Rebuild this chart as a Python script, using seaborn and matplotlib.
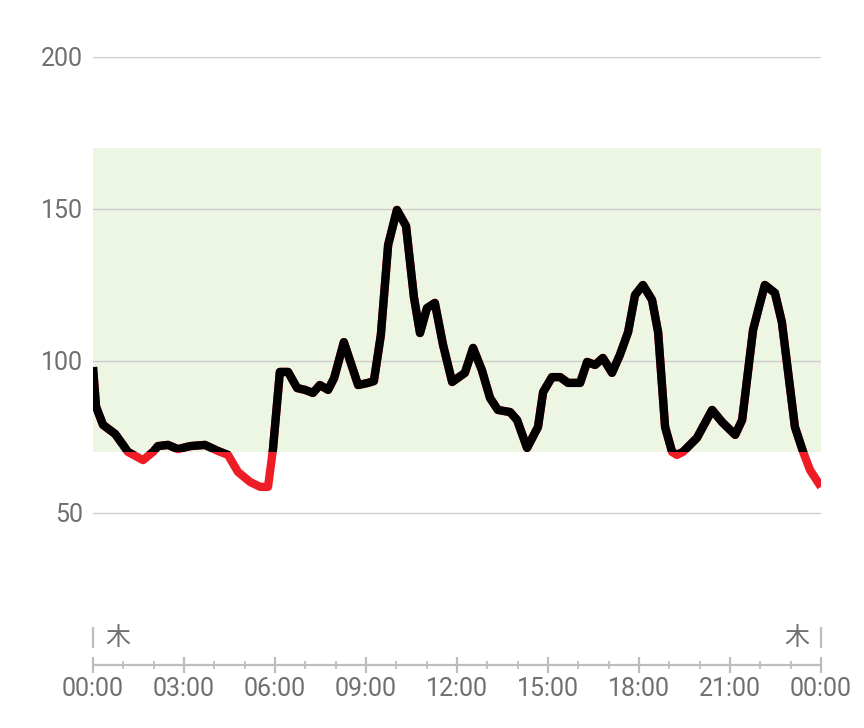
import matplotlib
matplotlib.use("Agg")
import matplotlib.pyplot as plt
import seaborn as sns
import pandas as pd
from matplotlib.patches import Rectangle

# ---- data ----
hours = [0.00, 0.10, 0.33, 0.73, 0.99, 1.15, 1.65, 1.98, 2.14, 2.47, 2.80, 3.20,
         3.69, 4.12, 4.45, 4.78, 5.18, 5.51, 5.77, 5.93, 6.16, 6.43, 6.73, 6.99,
         7.25, 7.48, 7.75, 7.95, 8.27, 8.74, 9.07, 9.26, 9.49, 9.73, 10.02, 10.32,
         10.58, 10.78, 11.01, 11.27, 11.54, 11.84, 12.26, 12.53, 12.82, 13.09, 13.35,
         13.75, 13.98, 14.31, 14.67, 14.84, 15.13, 15.40, 15.66, 16.06, 16.29, 16.55,
         16.81, 17.11, 17.37, 17.64, 17.87, 18.13, 18.43, 18.63, 18.86, 19.09, 19.25,
         19.45, 19.91, 20.41, 20.74, 21.17, 21.40, 21.76, 21.99, 22.15, 22.48, 22.71,
         23.14, 23.41, 23.64, 24.00]
glucose = [98, 85, 79, 76, 72.4, 70.1, 67.4, 70.1, 72, 72.4, 71, 72,
           72.4, 70.4, 69.1, 63.5, 60.2, 58.6, 58.6, 70.7, 96.4, 96.4, 91.1, 90.5,
           89.5, 92.1, 90.5, 94.4, 106.2, 92.1, 92.8, 93.4, 108.6, 138.2, 149.7, 144.4,
           121, 109.2, 117.4, 119.1, 105.3, 93.1, 96.1, 104.3, 97, 87.8, 83.9,
           83.2, 80.6, 71.4, 78.3, 89.8, 94.7, 94.7, 92.8, 92.8, 99.7, 98.7,
           101, 96.1, 102, 109.5, 121.7, 125, 120.1, 109.5, 78.3, 70.1, 69.1,
           70.1, 74.7, 83.9, 79.9, 75.7, 80.6, 110.2, 119.1, 125, 122.4, 112.8,
           78.3, 70.1, 64.1, 58.6]
target_low, target_high = 70, 170
y_ticks = [50, 100, 150, 200]
x_ticks = [0, 3, 6, 9, 12, 15, 18, 21, 24]
x_tick_labels = ["00:00", "03:00", "06:00", "09:00", "12:00", "15:00", "18:00", "21:00", "00:00"]
day_label = "木"

df = pd.DataFrame({"hour": hours, "glucose": glucose})

sns.set_style("white")
plt.rcParams["font.family"] = ["Roboto", "Noto Sans CJK JP", "DejaVu Sans"]

TXT = "#707070"
AXC = "#bdbdbd"
FS = 18

fig = plt.figure(figsize=(8.64, 7.28), dpi=100)
ax = fig.add_axes([93 / 864, 63 / 728, 728 / 864, 608 / 728])
ax.set_xlim(0, 24)
ax.set_ylim(0, 200)

# target band
ax.axhspan(target_low, target_high, color="#edf5e3", zorder=0, lw=0)

# grid lines
for yv in y_ticks:
    ax.axhline(yv, color="#cccccc", lw=1.0, zorder=1)

# red (below target) line underneath, black clipped to in-range region on top
sns.lineplot(data=df, x="hour", y="glucose", ax=ax, color="#ee1c25", lw=6.0,
             solid_joinstyle="round", solid_capstyle="butt", zorder=3, legend=False)
sns.lineplot(data=df, x="hour", y="glucose", ax=ax, color="black", lw=6.0,
             solid_joinstyle="round", solid_capstyle="butt", zorder=4, legend=False)
clip = Rectangle((0, target_low), 24, 200 - target_low, transform=ax.transData,
                 facecolor="none", edgecolor="none")
ax.add_patch(clip)
ax.lines[-1].set_clip_path(clip)

# axes styling
for s in ["top", "right", "left"]:
    ax.spines[s].set_visible(False)
ax.spines["bottom"].set_color(AXC)
ax.spines["bottom"].set_linewidth(1.6)

ax.set_yticks(y_ticks)
ax.set_yticklabels([str(v) for v in y_ticks])
ax.tick_params(axis="y", left=False, length=0, pad=7, labelsize=FS, labelcolor=TXT)

ax.set_xticks(x_ticks)
ax.set_xticklabels(x_tick_labels)
ax.set_xticks(list(range(0, 25)), minor=True)
ax.tick_params(axis="x", which="major", bottom=True, direction="inout", length=11,
               width=1.6, color=AXC, labelsize=FS, labelcolor=TXT, pad=3.5)
ax.tick_params(axis="x", which="minor", bottom=True, direction="inout", length=6,
               width=1.3, color=AXC)
ax.set_xlabel("")
ax.set_ylabel("")

# day markers
ax.vlines([0, 24], 5.6, 12.5, colors=AXC, lw=1.6, clip_on=False)
ax.text(0.4, 9.0, day_label, ha="left", va="center", fontsize=FS, color=TXT)
ax.text(23.6, 9.0, day_label, ha="right", va="center", fontsize=FS, color=TXT)

fig.savefig("out.png", dpi=100)
